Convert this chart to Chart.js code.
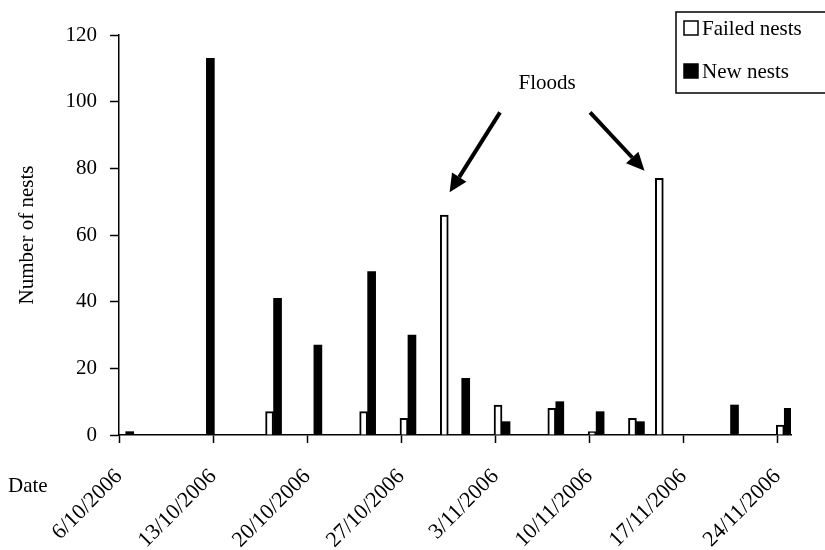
<!DOCTYPE html>
<html>
<head>
<meta charset="utf-8">
<script src="https://cdn.jsdelivr.net/npm/chart.js@4.4.1/dist/chart.umd.min.js"></script>
<style>
  html, body { margin: 0; padding: 0; background: #fff; }
  #wrap { width: 825px; height: 550px; position: relative; }
</style>
</head>
<body>
<div id="wrap"><canvas id="c" width="825" height="550"></canvas></div>
<script>
// Nest counts per survey date
const nestDates   = ['6/10/2006', '12/10/2006', '17/10/2006', '20/10/2006', '24/10/2006',
                     '27/10/2006', '30/10/2006', '31/10/2006', '3/11/2006', '7/11/2006',
                     '10/11/2006', '13/11/2006', '15/11/2006', '20/11/2006', '24/11/2006'];
const failedNests = [0, 0, 7, 0, 7, 5, 66, 0, 9, 8, 1, 5, 77, 0, 3];
const newNests    = [1, 113, 41, 27, 49, 30, 0, 17, 4, 10, 7, 4, 0, 9, 8];

// Axis ticks
const dateTicks  = ['6/10/2006', '13/10/2006', '20/10/2006', '27/10/2006',
                    '3/11/2006', '10/11/2006', '17/11/2006', '24/11/2006'];
const valueTicks = [0, 20, 40, 60, 80, 100, 120];

const seriesNames = ['Failed nests', 'New nests'];
const floodLabel  = 'Floods';
const xTitle = 'Date';
const yTitle = 'Number of nests';

const FONT = "'Liberation Serif', 'Times New Roman', serif";
const FS = 21;

// days since the first tick date; each day is one slot on the time axis
function dayNumber(s) {
  const [d, m, y] = s.split('/').map(Number);
  const [d0, m0, y0] = dateTicks[0].split('/').map(Number);
  return Math.round((Date.UTC(y, m - 1, d) - Date.UTC(y0, m0 - 1, d0)) / 864e5);
}
const lastDay = dayNumber(dateTicks[dateTicks.length - 1]) + 1;
const slot = s => dayNumber(s) + 0.5;

// flood annotation: label and arrows placed in axis units (day, count)
const floodNote = {
  text: { x: 31.85, y: 105.5 },
  arrows: [
    { from: { x: 28.35, y: 96.8 }, to: { x: 24.6, y: 72.8 } },
    { from: { x: 35.05, y: 96.8 }, to: { x: 39.1, y: 79.3 } }
  ]
};

const annotationPlugin = {
  id: 'floodNote',
  afterDatasetsDraw(chart) {
    const { ctx, scales: { x, y } } = chart;
    ctx.save();
    ctx.fillStyle = '#000';
    ctx.strokeStyle = '#000';
    ctx.font = `${FS}px ${FONT}`;
    ctx.textAlign = 'center';
    ctx.textBaseline = 'middle';
    ctx.fillText(floodLabel, x.getPixelForValue(floodNote.text.x), y.getPixelForValue(floodNote.text.y));
    floodNote.arrows.forEach(a => {
      const x1 = x.getPixelForValue(a.from.x), y1 = y.getPixelForValue(a.from.y);
      const x2 = x.getPixelForValue(a.to.x),   y2 = y.getPixelForValue(a.to.y);
      const ang = Math.atan2(y2 - y1, x2 - x1);
      const head = 18, half = 8.5;
      const bx = x2 - head * Math.cos(ang), by = y2 - head * Math.sin(ang);
      ctx.lineWidth = 4;
      ctx.lineCap = 'butt';
      ctx.beginPath();
      ctx.moveTo(x1, y1);
      ctx.lineTo(bx, by);
      ctx.stroke();
      ctx.beginPath();
      ctx.moveTo(x2, y2);
      ctx.lineTo(bx + half * Math.sin(ang), by - half * Math.cos(ang));
      ctx.lineTo(bx - half * Math.sin(ang), by + half * Math.cos(ang));
      ctx.closePath();
      ctx.fill();
    });
    // x-axis caption at the lower left
    ctx.textAlign = 'left';
    ctx.textBaseline = 'alphabetic';
    ctx.fillText(xTitle, 8, 492);
    ctx.restore();
  }
};

// boxed legend in the top right corner, clipped by the canvas edge
const boxLegend = {
  id: 'boxLegend',
  afterDraw(chart) {
    const { ctx } = chart;
    const left = 676, top = 12, bottom = 93, right = 830;
    const rows = [28, 71];
    ctx.save();
    ctx.strokeStyle = '#000';
    ctx.lineWidth = 1.5;
    ctx.strokeRect(left, top, right - left, bottom - top);
    ctx.font = `${FS}px ${FONT}`;
    ctx.textBaseline = 'middle';
    ctx.textAlign = 'left';
    chart.data.datasets.forEach((ds, i) => {
      const cy = rows[i];
      const sz = 14;
      ctx.fillStyle = ds.backgroundColor;
      ctx.fillRect(left + 8, cy - sz / 2, sz, sz);
      ctx.lineWidth = 1.5;
      ctx.strokeStyle = '#000';
      ctx.strokeRect(left + 8, cy - sz / 2, sz, sz);
      ctx.fillStyle = '#000';
      ctx.fillText(ds.label, left + 8 + sz + 4, cy + 1);
    });
    ctx.restore();
  }
};

const toPoints = vals => nestDates.map((d, i) => ({ x: slot(d), y: vals[i] }));

new Chart(document.getElementById('c'), {
  type: 'bar',
  data: {
    datasets: [
      {
        label: seriesNames[0],
        data: toPoints(failedNests),
        backgroundColor: '#ffffff',
        borderColor: '#000000',
        borderWidth: 2,
        barThickness: 8
      },
      {
        label: seriesNames[1],
        data: toPoints(newNests),
        backgroundColor: '#000000',
        borderWidth: 0,
        barThickness: 8
      }
    ]
  },
  options: {
    responsive: false,
    animation: false,
    devicePixelRatio: 1,
    layout: { padding: { top: 35, right: 34, bottom: 0, left: 0 } },
    plugins: {
      legend: { display: false },
      tooltip: { enabled: false }
    },
    scales: {
      x: {
        type: 'linear',
        offset: false,
        min: 0,
        max: lastDay,
        afterBuildTicks(scale) {
          scale.ticks = dateTicks.map(s => ({ value: dayNumber(s) }));
        },
        afterFit(scale) { scale.height = 115; },
        ticks: {
          autoSkip: false,
          minRotation: 45,
          maxRotation: 45,
          padding: 27,
          color: '#000',
          font: { family: FONT, size: 22, lineHeight: 0.4 },
          callback: (v, i) => dateTicks[i]
        },
        grid: {
          offset: false,
          drawOnChartArea: false,
          drawTicks: true,
          tickLength: 8,
          tickColor: '#000',
          tickWidth: 1.5
        },
        border: { color: '#000', width: 1.5 }
      },
      y: {
        type: 'linear',
        min: valueTicks[0],
        max: valueTicks[valueTicks.length - 1],
        afterBuildTicks(scale) {
          scale.ticks = valueTicks.map(v => ({ value: v }));
        },
        afterFit(scale) { scale.width = 119; },
        ticks: {
          padding: 13,
          color: '#000',
          font: { family: FONT, size: FS }
        },
        grid: {
          drawOnChartArea: false,
          drawTicks: true,
          tickLength: 9,
          tickColor: '#000',
          tickWidth: 1.5
        },
        border: { color: '#000', width: 1.5 },
        title: {
          display: true,
          text: yTitle,
          color: '#000',
          font: { family: FONT, size: FS },
          padding: { top: 15, bottom: 0 }
        }
      }
    }
  },
  plugins: [annotationPlugin, boxLegend]
});
</script>
</body>
</html>
